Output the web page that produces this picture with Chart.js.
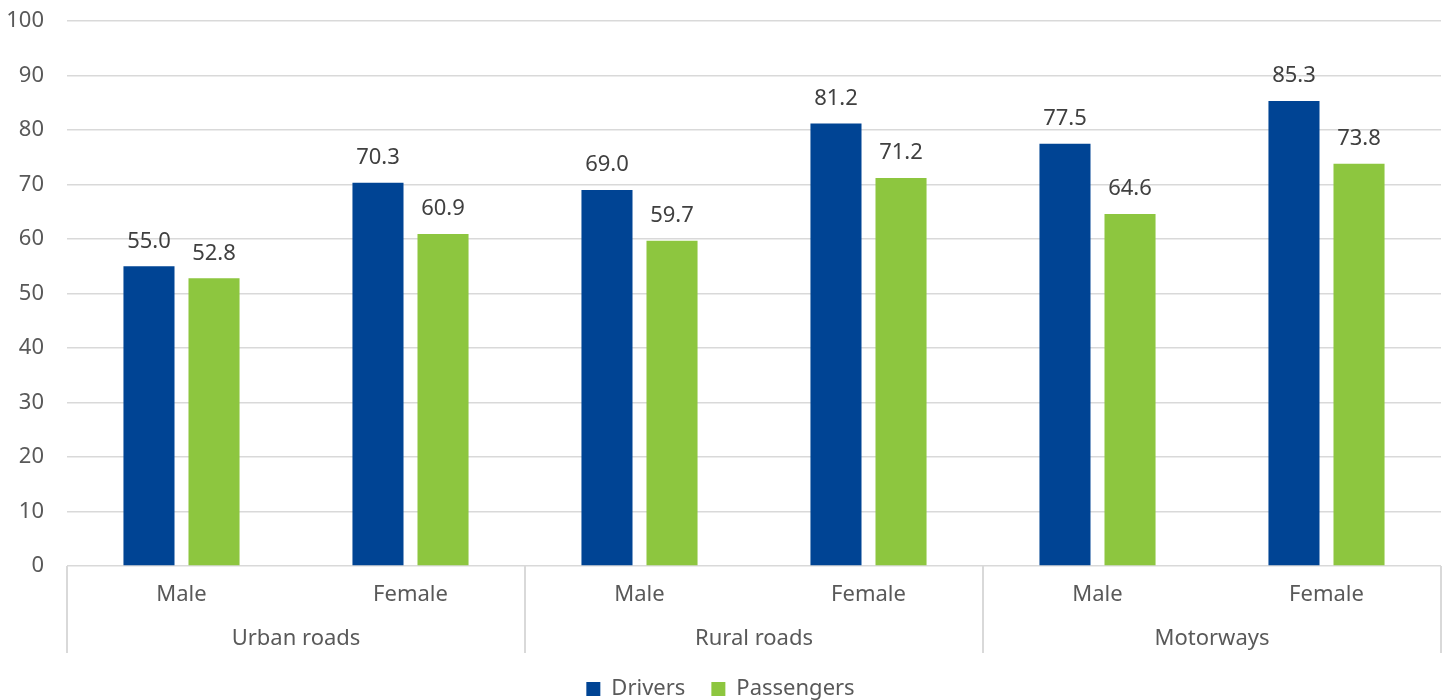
<!DOCTYPE html>
<html>
<head>
<meta charset="utf-8">
<script src="https://cdn.jsdelivr.net/npm/chart.js@4.4.0/dist/chart.umd.min.js"></script>
<style>
html,body{margin:0;padding:0;background:#fff;}
#wrap{width:1450px;height:700px;position:relative;}
</style>
</head>
<body>
<div id="wrap"><canvas id="c" width="1450" height="700"></canvas></div>
<script>
const categories = ["Male", "Female", "Male", "Female", "Male", "Female"];
const groups = ["Urban roads", "Rural roads", "Motorways"];
const drivers = [55.0, 70.3, 69.0, 81.2, 77.5, 85.3];
const passengers = [52.8, 60.9, 59.7, 71.2, 64.6, 73.8];
const yTicks = [0, 10, 20, 30, 40, 50, 60, 70, 80, 90, 100];

const FONT = "'Noto Sans', sans-serif";
const GRID = '#d9d9d9';
const TEXT = '#595959';

const valueLabels = {
  id: 'valueLabels',
  afterDatasetsDraw(chart) {
    const ctx = chart.ctx;
    ctx.save();
    ctx.font = '22px ' + FONT;
    ctx.fillStyle = '#404040';
    ctx.textAlign = 'center';
    ctx.textBaseline = 'middle';
    chart.data.datasets.forEach((ds, di) => {
      const meta = chart.getDatasetMeta(di);
      meta.data.forEach((bar, i) => {
        ctx.fillText(ds.data[i].toFixed(1), bar.x, bar.y - 25);
      });
    });
    ctx.restore();
  }
};

const groupLines = {
  id: 'groupLines',
  afterDraw(chart) {
    const x = chart.scales.x;
    const x2 = chart.scales.x2;
    const ctx = chart.ctx;
    ctx.save();
    ctx.strokeStyle = GRID;
    ctx.lineWidth = 2;
    const n = groups.length;
    for (let i = 0; i <= n; i++) {
      const px = Math.round(x.left + i * (x.width / n));
      ctx.beginPath();
      ctx.moveTo(px, x.top);
      ctx.lineTo(px, x2.top + 43);
      ctx.stroke();
    }
    ctx.restore();
  }
};

new Chart(document.getElementById('c'), {
  type: 'bar',
  data: {
    labels: categories,
    datasets: [
      { label: 'Drivers', data: drivers, backgroundColor: '#004494', categoryPercentage: 0.568, barPercentage: 0.785 },
      { label: 'Passengers', data: passengers, backgroundColor: '#8dc63f', categoryPercentage: 0.568, barPercentage: 0.785 }
    ]
  },
  options: {
    responsive: false,
    animation: false,
    layout: { padding: { top: 21, right: 9, left: 0, bottom: -10 } },
    plugins: {
      legend: {
        position: 'bottom',
        labels: {
          font: { family: FONT, size: 22 },
          color: TEXT,
          boxWidth: 14,
          boxHeight: 14,
          padding: 26
        }
      },
      tooltip: { enabled: false }
    },
    scales: {
      y: {
        min: 0, max: 100,
        afterBuildTicks(axis) { axis.ticks = yTicks.map(v => ({ value: v })); },
        afterFit(axis) { axis.width = 67; axis.paddingTop = 0; axis.paddingBottom = 0; },
        ticks: { font: { family: FONT, size: 22 }, color: TEXT, padding: 23 },
        grid: { color: GRID, lineWidth: 1.5, drawTicks: false },
        border: { display: false }
      },
      x: {
        position: 'bottom',
        afterFit(axis) { axis.height = 44; },
        ticks: { font: { family: FONT, size: 22 }, color: TEXT, padding: 16, maxRotation: 0 },
        grid: { display: false, drawTicks: false },
        border: { display: false }
      },
      x2: {
        type: 'category',
        position: 'bottom',
        labels: groups,
        offset: true,
        afterFit(axis) { axis.height = 42; },
        ticks: { font: { family: FONT, size: 22 }, color: TEXT, padding: 16, maxRotation: 0 },
        grid: { display: false, drawTicks: false },
        border: { display: false }
      }
    }
  },
  plugins: [valueLabels, groupLines]
});
</script>
</body>
</html>
